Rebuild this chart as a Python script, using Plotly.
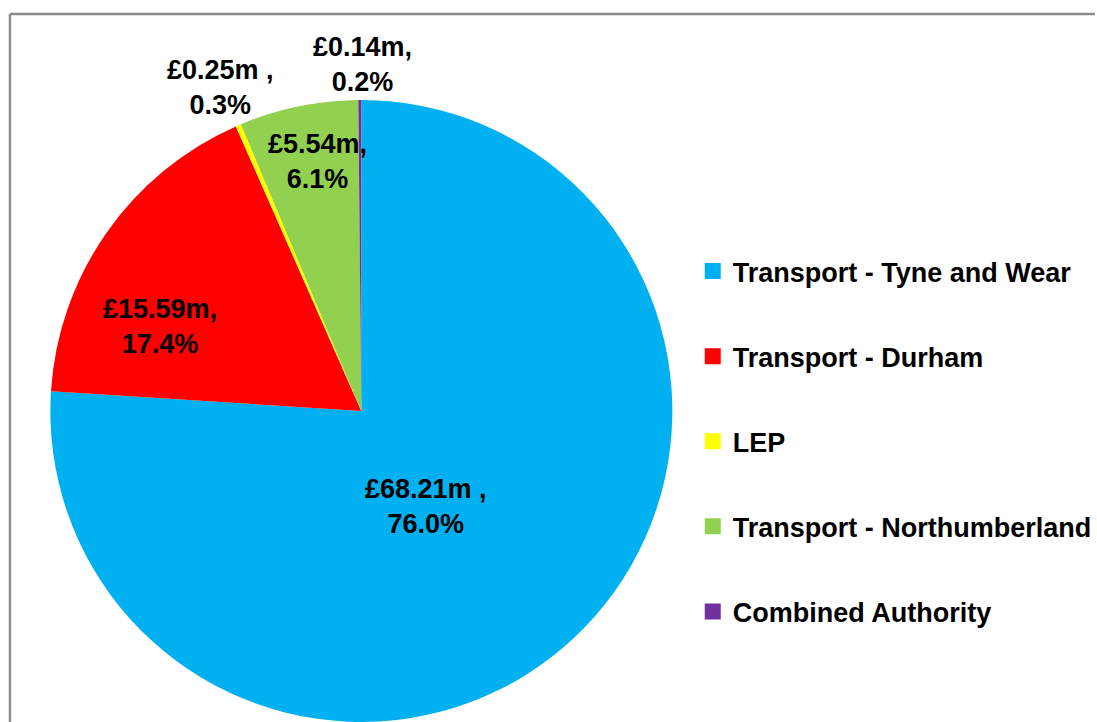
import plotly.graph_objects as go

categories = ["Transport - Tyne and Wear", "Transport - Durham", "LEP",
              "Transport - Northumberland", "Combined Authority"]
values = [68.21, 15.59, 0.25, 5.54, 0.14]
value_labels = ["£68.21m ,", "£15.59m,", "£0.25m ,", "£5.54m,", "£0.14m,"]
percent_labels = ["76.0%", "17.4%", "0.3%", "6.1%", "0.2%"]
colors = ["#00B0F0", "#FF0000", "#FFFF00", "#92D050", "#7030A0"]

W, H = 1097, 722
FONT = "Liberation Sans"

fig = go.Figure()
fig.add_trace(go.Pie(
    labels=categories, values=values, sort=False, direction="clockwise",
    rotation=0, marker=dict(colors=colors, line=dict(width=0)),
    textinfo="none", hoverinfo="label+value+percent", showlegend=False,
    domain=dict(x=[50 / W, 674 / W], y=[0, 1 - 100 / H]),
))

# legend entries via invisible scatter traces
for i, (c, col) in enumerate(zip(categories, colors)):
    fig.add_trace(go.Scatter(
        x=[None], y=[None], mode="markers", name=c,
        marker=dict(symbol="square", size=17, color=col),
        legendgroup=f"g{i}", showlegend=True,
    ))

# label centers (pixel) per slice
label_px = [(427, 506), (160, 326), (221, 88), (318, 161), (363, 64)]
for (px, py), v, p in zip(label_px, value_labels, percent_labels):
    fig.add_annotation(
        x=px / W, y=1 - py / H, xref="paper", yref="paper",
        text=f"{v}<br>{p}", showarrow=False, xanchor="center", yanchor="middle",
        font=dict(family=FONT, size=27, color="#000000", weight="bold"),
    )

# chart border (top and left visible)
fig.add_shape(type="line", xref="paper", yref="paper",
              x0=10 / W, x1=1.0, y0=1 - 14 / H, y1=1 - 14 / H,
              line=dict(color="#8C8C8C", width=2.5))
fig.add_shape(type="line", xref="paper", yref="paper",
              x0=10 / W, x1=10 / W, y0=1 - 14 / H, y1=0.0,
              line=dict(color="#8C8C8C", width=2.5))

fig.update_layout(
    width=W, height=H, margin=dict(l=0, r=0, t=0, b=0),
    paper_bgcolor="white", plot_bgcolor="white",
    xaxis=dict(visible=False), yaxis=dict(visible=False),
    legend=dict(x=694 / W, y=1 - 247 / H, xanchor="left", yanchor="top",
                font=dict(family=FONT, size=27, color="#000000", weight="bold"),
                tracegroupgap=47, itemwidth=30, bgcolor="rgba(0,0,0,0)"),
)

fig.write_html("out.html", config={"displayModeBar": False},
               post_script=("document.body.style.margin='0';"
                            "document.body.style.overflow='hidden';"
                            "document.documentElement.style.overflow='hidden';"))
